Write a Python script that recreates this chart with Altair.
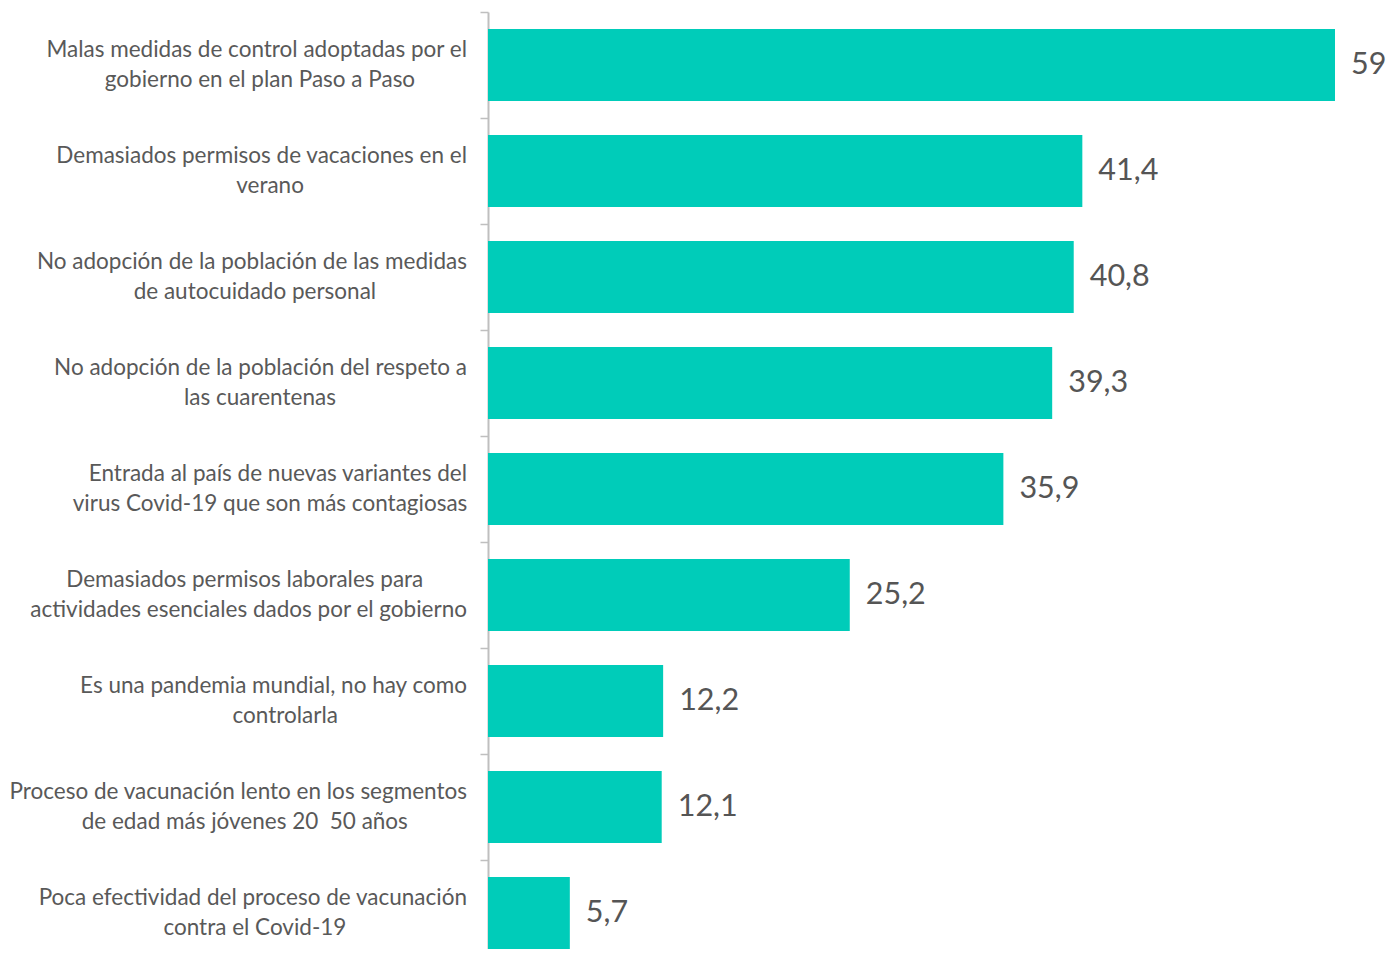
import altair as alt
import pandas as pd

categories = [
    "Malas medidas de control adoptadas por el\ngobierno en el plan Paso a Paso",
    "Demasiados permisos de vacaciones en el\nverano",
    "No adopción de la población de las medidas\nde autocuidado personal",
    "No adopción de la población del respeto a\nlas cuarentenas",
    "Entrada al país de nuevas variantes del\nvirus Covid-19 que son más contagiosas",
    "Demasiados permisos laborales para\nactividades esenciales dados por el gobierno",
    "Es una pandemia mundial, no hay como\ncontrolarla",
    "Proceso de vacunación lento en los segmentos\nde edad más jóvenes 20 \u00a050 años",
    "Poca efectividad del proceso de vacunación\ncontra el Covid-19",
]
values = [59, 41.4, 40.8, 39.3, 35.9, 25.2, 12.2, 12.1, 5.7]

df = pd.DataFrame({"cat": categories, "v": values})
order = categories

CHAR_W = 10.1   # approx rendered width per character of label font
LABEL_RIGHT = -21  # right edge of labels relative to the axis
HALF_LINE = 14.75
LABEL_FONT = "Lato"
LABEL_SIZE = 22.5
LABEL_COLOR = "#595959"

y_scale = alt.Scale(paddingInner=0, paddingOuter=0, range=[0, 954])

y_enc = alt.Y(
    "cat:N",
    sort=order,
    scale=y_scale,
    axis=alt.Axis(
        labels=False,
        title=None,
        tickBand="extent",
        domainColor="#bfbfbf",
        domainWidth=2,
        tickColor="#bfbfbf",
        tickWidth=1.5,
        tickSize=8,
    ),
)

x_scale = alt.Scale(domain=[0, 59], nice=False)

bars = alt.Chart(df).mark_bar(color="#00CCB9", height={"band": 0.68}).encode(
    x=alt.X("v:Q", scale=x_scale, axis=None),
    y=y_enc,
)

vals = alt.Chart(df).transform_calculate(
    lbl="replace(format(datum.v, '.1~f'), '.', ',')"
).mark_text(
    align="left", baseline="middle", dx=16, font="Lato", fontSize=30.5, color="#555555"
).encode(
    x=alt.X("v:Q", scale=x_scale, axis=None),
    y=alt.Y("cat:N", sort=order),
    text="lbl:N",
)

base_lbl = alt.Chart(df).transform_calculate(
    l0="split(datum.cat, '\\n')[0]",
    l1="split(datum.cat, '\\n')[1]",
).transform_calculate(
    n0="length(datum.l0)",
    n1="length(datum.l1)",
).transform_calculate(
    long0="datum.n0 >= datum.n1",
    cx="%f - max(datum.n0, datum.n1) * %f / 2" % (LABEL_RIGHT, CHAR_W),
    rx="%f" % LABEL_RIGHT,
)


def line_layer(line, longest):
    field = "l0" if line == 0 else "l1"
    dy = -HALF_LINE if line == 0 else HALF_LINE
    cond = "datum.long0" if (line == 0) == longest else "!datum.long0"
    return base_lbl.transform_filter(cond).mark_text(
        align="right" if longest else "center",
        baseline="middle",
        dy=dy,
        font=LABEL_FONT,
        fontSize=LABEL_SIZE,
        color=LABEL_COLOR,
    ).encode(
        x=alt.X("rx:Q" if longest else "cx:Q", scale=None),
        y=alt.Y("cat:N", sort=order),
        text=alt.Text(field + ":N"),
    )


labels = [line_layer(0, True), line_layer(0, False), line_layer(1, True), line_layer(1, False)]

chart = alt.layer(bars, vals, *labels).properties(
    width=847,
    height=937,
    autosize=alt.AutoSizeParams(type="none"),
    padding={"left": 480, "top": 4, "right": 52, "bottom": 0},
).configure_view(stroke=None)

chart.save("out.html", embed_options={"renderer": "svg", "actions": False})
